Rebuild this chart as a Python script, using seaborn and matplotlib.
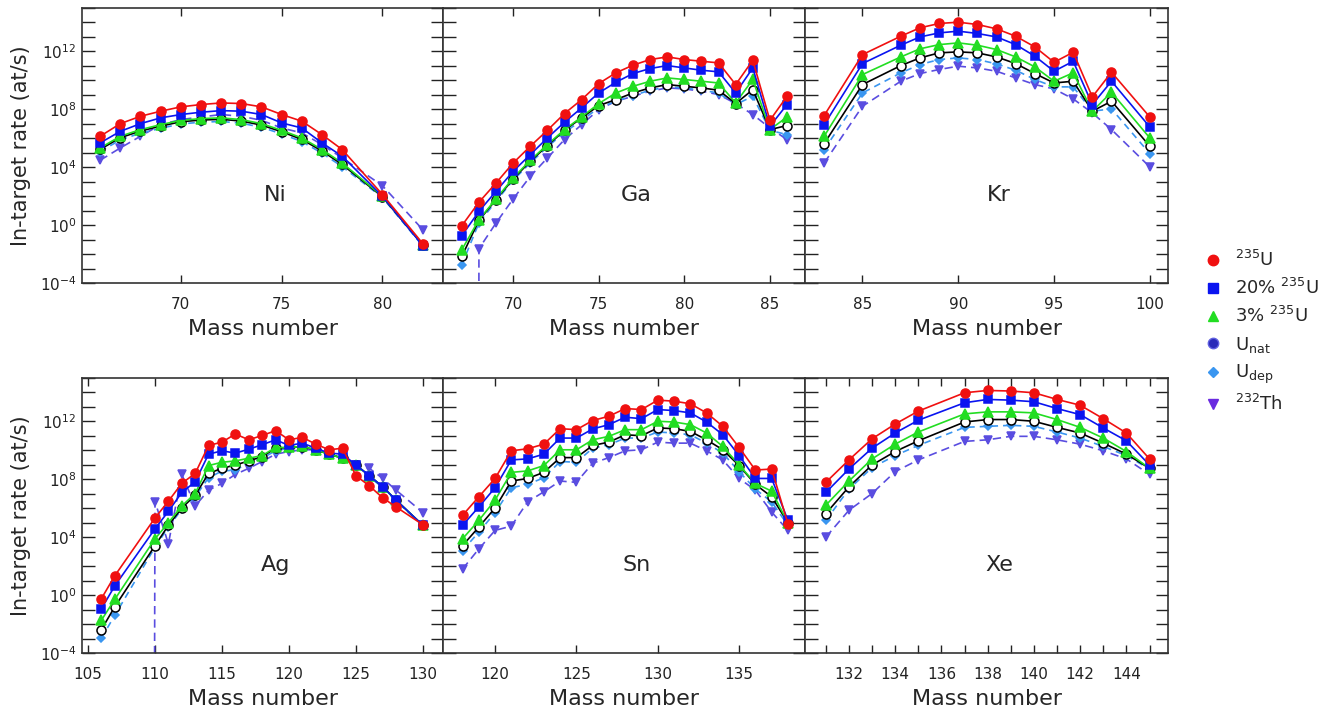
"""In-target rates for Ni, Ga, Kr, Ag, Sn, Xe isotopes, six target types."""
import numpy as np
import matplotlib
matplotlib.use("Agg")
import matplotlib.pyplot as plt
import seaborn as sns
from matplotlib.ticker import FixedLocator, FuncFormatter, MultipleLocator, NullLocator
from matplotlib.lines import Line2D

# values are log10(rate in at/s); -inf means zero rate
NEG = -np.inf

ni_mass = [66, 67, 68, 69, 70, 71, 72, 73, 74, 75, 76, 77, 78, 80, 82]
ni_u235 = [6.14, 7.01, 7.52, 7.87, 8.17, 8.33, 8.44, 8.40, 8.17, 7.64, 7.18, 6.25, 5.22, 2.11, -1.28]
ni_u20 = [5.68, 6.48, 7.01, 7.41, 7.64, 7.80, 7.91, 7.87, 7.64, 7.06, 6.71, 5.68, 4.76, 1.99, -1.42]
ni_u3 = [5.33, 6.14, 6.60, 6.94, 7.24, 7.36, 7.41, 7.29, 7.01, 6.55, 6.02, 5.22, 4.29, 1.99, -1.35]
ni_unat = [5.23, 6.04, 6.50, 6.84, 7.14, 7.26, 7.31, 7.19, 6.91, 6.45, 5.92, 5.12, 4.19, 1.95, -1.38]
ni_udep = [5.08, 5.89, 6.35, 6.69, 6.99, 7.11, 7.16, 7.04, 6.76, 6.30, 5.77, 4.97, 4.04, 1.90, -1.45]
ni_th = [4.48, 5.33, 6.14, 6.94, 7.29, 7.47, 7.64, 7.52, 7.24, 6.71, 6.37, 5.56, 4.64, 2.72, -0.32]

ga_mass = list(range(67, 87))
ga_u235 = [-0.04, 1.58, 2.91, 4.29, 5.45, 6.55, 7.71, 8.67, 9.78, 10.52, 11.05, 11.44, 11.62, 11.44, 11.32, 11.21, 9.71, 11.39, 7.24, 8.90]
ga_u20 = [-0.73, 0.95, 2.34, 3.72, 4.87, 6.02, 7.11, 8.10, 9.13, 9.87, 10.47, 10.82, 11.02, 10.86, 10.70, 10.59, 9.13, 10.86, 6.83, 8.33]
ga_u3 = [-1.70, 0.38, 1.81, 3.26, 4.48, 5.56, 6.60, 7.47, 8.40, 9.13, 9.59, 9.94, 10.17, 10.06, 9.94, 9.82, 8.44, 10.06, 6.60, 7.47]
ga_unat = [-2.16, 0.33, 1.76, 3.19, 4.41, 5.49, 6.55, 7.41, 8.26, 8.67, 9.13, 9.48, 9.71, 9.59, 9.48, 9.32, 8.40, 9.36, 6.60, 6.88]
ga_udep = [-2.73, 0.15, 1.65, 3.10, 4.29, 5.40, 6.41, 7.24, 8.10, 8.56, 8.95, 9.32, 9.55, 9.48, 9.32, 9.13, 8.33, 8.90, 6.55, 6.25]
ga_th = [NEG, -1.63, 0.15, 1.81, 3.37, 4.64, 5.91, 6.94, 7.98, 8.56, 8.90, 9.25, 9.48, 9.41, 9.25, 9.02, 8.40, 7.64, 6.71, 5.91]

kr_mass = [83, 85, 87, 88, 89, 90, 91, 92, 93, 94, 95, 96, 97, 98, 100]
kr_u235 = [7.57, 11.78, 13.05, 13.63, 13.93, 14.02, 13.86, 13.56, 13.05, 12.31, 11.25, 11.94, 8.86, 10.56, 7.47]
kr_u20 = [6.94, 11.16, 12.43, 13.00, 13.28, 13.40, 13.24, 13.00, 12.47, 11.67, 10.63, 11.32, 8.33, 9.94, 6.78]
kr_u3 = [6.14, 10.40, 11.62, 12.18, 12.47, 12.59, 12.43, 12.13, 11.62, 10.93, 9.94, 10.52, 7.87, 9.18, 6.02]
kr_unat = [5.63, 9.71, 11.02, 11.55, 11.90, 11.97, 11.90, 11.62, 11.16, 10.47, 9.82, 9.94, 7.87, 8.56, 5.45]
kr_udep = [5.22, 9.13, 10.52, 11.09, 11.44, 11.55, 11.44, 11.14, 10.70, 10.06, 9.55, 9.55, 7.87, 8.03, 4.94]
kr_th = [4.29, 8.21, 9.94, 10.47, 10.75, 10.98, 10.86, 10.63, 10.17, 9.71, 9.41, 8.72, 7.75, 6.60, 4.02]

ag_mass = [106, 107, 110, 111, 112, 113, 114, 115, 116, 117, 118, 119, 120, 121, 122, 123, 124, 125, 126, 127, 128, 130]
ag_u235 = [-0.24, 1.34, 5.33, 6.49, 7.72, 8.41, 10.34, 10.57, 11.13, 10.73, 11.03, 11.36, 10.73, 10.90, 10.43, 10.04, 10.15, 8.25, 7.55, 6.72, 6.09, 4.86]
ag_u20 = [-0.94, 0.64, 4.58, 5.79, 7.09, 7.83, 9.74, 9.97, 9.81, 10.08, 10.39, 10.73, 10.34, 10.50, 10.15, 9.81, 9.74, 8.99, 8.25, 7.48, 6.56, 4.82]
ag_u3 = [-1.73, -0.29, 3.89, 5.00, 6.16, 7.02, 8.95, 9.18, 9.27, 9.46, 9.64, 10.20, 10.20, 10.27, 10.04, 9.74, 9.46, 8.99, 8.25, 7.48, 6.56, 4.82]
ag_unat = [-2.38, -0.80, 3.42, 4.82, 6.02, 6.90, 8.41, 8.76, 8.99, 9.27, 9.57, 10.15, 10.20, 10.25, 10.04, 9.74, 9.46, 8.99, 8.25, 7.48, 6.56, 4.82]
ag_udep = [-2.96, -1.40, 3.31, 4.70, 5.93, 6.79, 8.11, 8.57, 8.64, 9.11, 9.46, 9.97, 10.15, 10.20, 10.04, 9.74, 9.46, 8.95, 8.18, 7.42, 6.49, 4.82]
ag_th = [NEG, NEG, 6.46, 3.54, 8.34, 6.16, 7.25, 7.72, 8.34, 8.76, 9.23, 9.74, 9.92, 10.04, 10.04, 9.74, 9.46, 8.99, 8.76, 8.06, 7.25, 5.70]

sn_mass = list(range(118, 139))
sn_u235 = [5.51, 6.79, 8.06, 9.97, 10.11, 10.43, 11.50, 11.43, 12.06, 12.36, 12.89, 12.82, 13.47, 13.40, 13.22, 12.59, 11.66, 10.20, 8.64, 8.71, 4.93]
sn_u20 = [4.82, 6.09, 7.42, 9.34, 9.41, 9.74, 10.85, 10.85, 11.48, 11.78, 12.29, 12.19, 12.82, 12.75, 12.59, 11.96, 11.08, 9.64, 8.06, 8.06, 5.16]
sn_u3 = [3.89, 5.16, 6.56, 8.48, 8.58, 8.95, 10.04, 10.04, 10.73, 10.97, 11.43, 11.43, 12.01, 11.96, 11.78, 11.20, 10.27, 8.99, 7.72, 7.18, 5.00]
sn_unat = [3.42, 4.70, 6.02, 7.88, 8.06, 8.48, 9.50, 9.50, 10.34, 10.57, 11.08, 11.01, 11.55, 11.50, 11.31, 10.73, 10.04, 8.95, 7.65, 6.79, 5.00]
sn_udep = [3.08, 4.35, 5.70, 7.42, 7.65, 8.11, 9.23, 9.18, 10.15, 10.39, 10.85, 10.85, 11.27, 11.20, 11.08, 10.50, 9.81, 8.53, 7.32, 6.44, 4.82]
sn_th = [1.80, 3.19, 4.47, 4.77, 6.44, 7.14, 7.88, 7.79, 9.11, 9.50, 9.97, 10.04, 10.57, 10.50, 10.50, 9.97, 9.34, 8.06, 7.25, 5.74, 4.47]

xe_mass = [131, 132, 133, 134, 135, 137, 138, 139, 140, 141, 142, 143, 144, 145]
xe_u235 = [7.79, 9.34, 10.80, 11.82, 12.71, 13.98, 14.14, 14.10, 13.98, 13.52, 13.12, 12.19, 11.20, 9.41]
xe_u20 = [7.09, 8.71, 10.15, 11.20, 12.08, 13.29, 13.52, 13.47, 13.36, 12.89, 12.47, 11.55, 10.66, 8.99]
xe_u3 = [6.21, 7.88, 9.41, 10.43, 11.27, 12.52, 12.66, 12.66, 12.59, 12.13, 11.59, 10.85, 9.92, 8.76]
xe_unat = [5.63, 7.48, 8.99, 9.92, 10.66, 11.96, 12.13, 12.13, 12.01, 11.59, 11.20, 10.50, 9.74, 8.76]
xe_udep = [5.16, 7.32, 8.81, 9.64, 10.34, 11.59, 11.66, 11.73, 11.66, 11.27, 10.85, 10.27, 9.64, 8.71]
xe_th = [4.00, 5.86, 7.02, 8.53, 9.34, 10.62, 10.73, 10.97, 10.97, 10.73, 10.43, 9.97, 9.41, 8.34]

elements = ["Ni", "Ga", "Kr", "Ag", "Sn", "Xe"]
masses = [ni_mass, ga_mass, kr_mass, ag_mass, sn_mass, xe_mass]
series = [
    [ni_th, ni_udep, ni_unat, ni_u3, ni_u20, ni_u235],
    [ga_th, ga_udep, ga_unat, ga_u3, ga_u20, ga_u235],
    [kr_th, kr_udep, kr_unat, kr_u3, kr_u20, kr_u235],
    [ag_th, ag_udep, ag_unat, ag_u3, ag_u20, ag_u235],
    [sn_th, sn_udep, sn_unat, sn_u3, sn_u20, sn_u235],
    [xe_th, xe_udep, xe_unat, xe_u3, xe_u20, xe_u235],
]
xlims = [(65.1, 83), (65.9, 87.05), (82, 100.95), (104.55, 131.5), (116.8, 139.05), (130.1, 145.8)]

# styles in drawing order: Th, Udep, Unat, 3%, 20%, 235U
styles = [
    dict(color="#5a4de0", marker="v", ms=6, mfc="#5a4de0", mec="#5a4de0", dashes=(5, 3)),
    dict(color="#3a96f0", marker="D", ms=4.5, mfc="#3a96f0", mec="#3a96f0", dashes=(4, 3)),
    dict(color="black", marker="o", ms=6.5, mfc="white", mec="black", dashes=None),
    dict(color="#22dd22", marker="^", ms=6.5, mfc="#22dd22", mec="#22dd22", dashes=None),
    dict(color="#0a14f0", marker="s", ms=6, mfc="#0a14f0", mec="#0a14f0", dashes=None),
    dict(color="#f01010", marker="o", ms=6.5, mfc="#f01010", mec="#f01010", dashes=None),
]

sns.set_style("ticks")
plt.rcParams["font.family"] = ["DejaVu Sans"]

fig = plt.figure(figsize=(13.3, 7.2), dpi=100)
W, H = 1330, 720
lefts = [82, 443, 805]
widths = [361, 362, 363]
tops = [8, 378]
axh = 275

for i, el in enumerate(elements):
    r, c = divmod(i, 3)
    ax = fig.add_axes([lefts[c] / W, 1 - (tops[r] + axh) / H, widths[c] / W, axh / H])
    x = masses[i]
    for vals, st in zip(series[i], styles):
        y = 10.0 ** np.array(vals)
        sns.lineplot(x=x, y=y, ax=ax, color=st["color"], marker=st["marker"],
                     markersize=st["ms"], markerfacecolor=st["mfc"], markeredgecolor=st["mec"],
                     markeredgewidth=1.1, linewidth=1.2, errorbar=None, sort=False)
        if st["dashes"] is not None:
            ax.lines[-1].set_dashes(st["dashes"])
    ax.set_yscale("log")
    ax.set_ylim(1e-4, 1e15)
    ax.set_xlim(*xlims[i])
    ax.yaxis.set_major_locator(FixedLocator(10.0 ** np.arange(-4, 16)))
    ax.yaxis.set_minor_locator(NullLocator())
    ax.yaxis.set_major_formatter(FuncFormatter(
        lambda v, p: r"$10^{%d}$" % round(np.log10(v)) if round(np.log10(v)) % 4 == 0 and round(np.log10(v)) <= 12 else ""))
    if el == "Xe":
        ax.xaxis.set_major_locator(MultipleLocator(2))
        ax.xaxis.set_minor_locator(MultipleLocator(1))
    else:
        ax.xaxis.set_major_locator(MultipleLocator(5))
        ax.xaxis.set_minor_locator(NullLocator())
    ax.tick_params(axis="y", which="both", direction="in", left=True, right=True,
                   length=9, width=1.0, labelsize=11, colors="#222222", pad=4)
    ax.tick_params(axis="x", which="both", direction="in", top=True, bottom=True,
                   length=6, width=1.0, labelsize=11, colors="#222222", pad=10)
    if c != 0:
        ax.tick_params(axis="y", labelleft=False)
        ax.set_ylabel("")
    else:
        ax.set_ylabel("In-target rate (at/s)", fontsize=15, labelpad=6)
    ax.set_xlabel("Mass number", fontsize=16, labelpad=5)
    for sp in ax.spines.values():
        sp.set_visible(True)
        sp.set_color("#333333")
        sp.set_linewidth(1.2)
    ax.text(0.535, 0.32, el, transform=ax.transAxes, ha="center", va="center", fontsize=16)

handles = [
    Line2D([], [], ls="none", marker="o", ms=7.5, color="#f01010"),
    Line2D([], [], ls="none", marker="s", ms=7, color="#0a14f0"),
    Line2D([], [], ls="none", marker="^", ms=7.5, color="#22dd22"),
    Line2D([], [], ls="none", marker="o", ms=7.5, mfc="#2a2ab8", mec="#6060e0"),
    Line2D([], [], ls="none", marker="D", ms=5.5, color="#3a96f0"),
    Line2D([], [], ls="none", marker="v", ms=7.5, color="#6a2ae0"),
]
labels = [r"$^{235}$U", r"20% $^{235}$U", r"3% $^{235}$U", r"U$_{\rm nat}$", r"U$_{\rm dep}$", r"$^{232}$Th"]
fig.legend(handles, labels, loc="center left", bbox_to_anchor=(1186 / W, 1 - 332 / H),
           frameon=False, fontsize=13, handletextpad=0.6, labelspacing=0.45, handlelength=1.2)

fig.savefig("out.png", dpi=100)
